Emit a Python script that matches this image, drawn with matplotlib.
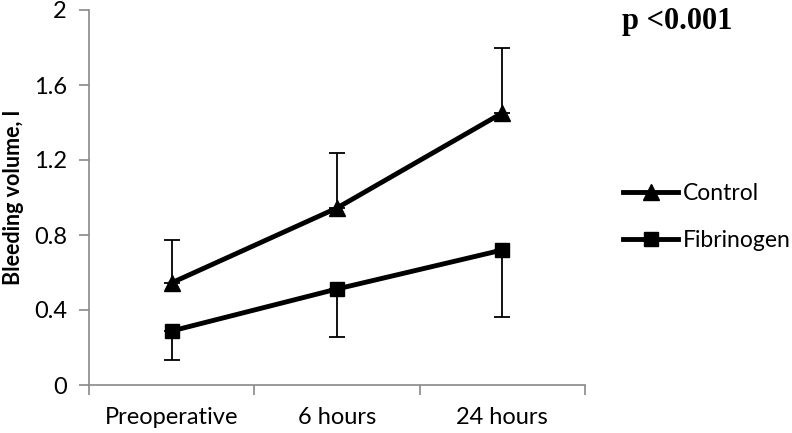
import numpy as np
from matplotlib import pyplot as plt

# bleeding volume by time point
categories = ["Preoperative", "6 hours", "24 hours"]
control = [0.545, 0.944, 1.451]
control_upper = [0.775, 1.237, 1.795]
fibrinogen = [0.288, 0.512, 0.72]
fibrinogen_lower = [0.135, 0.256, 0.365]

plt.rcParams['font.family'] = ['Lato', 'DejaVu Sans']

fig = plt.figure(figsize=(7.92, 4.33), dpi=100)
ax = fig.add_axes([89/792, 1-385/433, 496/792, 375/433])

x = np.arange(len(categories)) + 0.5
c_err = [np.zeros(3), np.array(control_upper) - np.array(control)]
f_err = [np.array(fibrinogen) - np.array(fibrinogen_lower), np.zeros(3)]

ax.errorbar(x, control, yerr=c_err, fmt="none", ecolor="black", elinewidth=1.3, capsize=6, capthick=1.3)
ax.errorbar(x, fibrinogen, yerr=f_err, fmt="none", ecolor="black", elinewidth=1.3, capsize=6, capthick=1.3)
ax.plot(x, control, color="black", lw=3.5, marker="^", ms=11, label="Control")
ax.plot(x, fibrinogen, color="black", lw=3.5, marker="s", ms=10, label="Fibrinogen")

ax.set_xlim(0, 3)
ax.set_ylim(0, 2)
ax.set_yticks([0, 0.4, 0.8, 1.2, 1.6, 2])
ax.set_yticklabels(["0", "0.4", "0.8", "1.2", "1.6", "2"])
ax.set_xticks([0, 1, 2, 3])
ax.set_xticklabels([])
ax.set_xticks(x, minor=True)
ax.set_xticklabels(categories, minor=True)
ax.tick_params(axis="x", which="minor", length=0, pad=16, labelsize=17)
ax.tick_params(axis="x", which="major", length=7, color="#898989", width=1.2)
ax.tick_params(axis="y", length=7, color="#898989", width=1.2, labelsize=17, pad=9)

for s in ["top", "right"]:
    ax.spines[s].set_visible(False)
for s in ["left", "bottom"]:
    ax.spines[s].set_color("#898989")
    ax.spines[s].set_linewidth(1.2)

ax.set_ylabel("Bleeding volume, l", fontsize=15.5, fontweight="bold")
ax.yaxis.set_label_coords(-0.132, 0.5)

fig.text(622/792, 1-21/433, "p <0.001", family="Liberation Serif", fontweight="bold", fontsize=22, va="center")

fig.legend(loc="center left", bbox_to_anchor=(614/792, 1-217/433), frameon=False, fontsize=16.5,
           handlelength=2.4, handletextpad=0.2, labelspacing=1.1, borderaxespad=0)

fig.savefig("out.png", dpi=100)
